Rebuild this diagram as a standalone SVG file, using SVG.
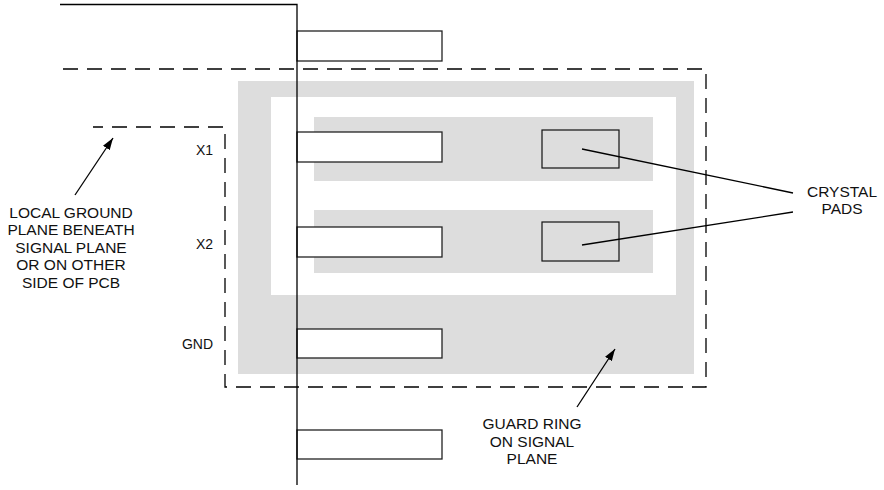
<svg xmlns="http://www.w3.org/2000/svg" width="884" height="490" viewBox="0 0 884 490">
<defs>
<style>
.ln{fill:none;stroke:#000;stroke-width:1.3}
.dash{fill:none;stroke:#000;stroke-width:1.3;stroke-dasharray:15 9}
.pad{fill:#fff;stroke:#222;stroke-width:1.3}
.cp{fill:none;stroke:#111;stroke-width:1.2}
.gray{fill:#dddddd}
.t{font-family:"Liberation Sans",Arial,sans-serif;font-size:15.5px;fill:#111;text-anchor:middle}
.lab{font-family:"Liberation Sans",Arial,sans-serif;font-size:14px;fill:#111;text-anchor:end}
</style>
<marker id="ah" viewBox="0 0 12 8" refX="12" refY="4" markerWidth="12" markerHeight="8" markerUnits="userSpaceOnUse" orient="auto">
<path d="M0,0 L12,4 L0,8 Z" fill="#000"/>
</marker>
</defs>
<rect width="884" height="490" fill="#fff"/>
<g id="guard-ring">
<rect class="gray" x="238" y="81" width="456" height="293"/>
<rect x="271" y="97" width="405" height="198" fill="#fff"/>
</g>
<g id="x1-guard">
<rect class="gray" x="314" y="117" width="339" height="64"/>
</g>
<g id="x2-guard">
<rect class="gray" x="314" y="210" width="339" height="63"/>
</g>
<g id="pins">
<rect class="pad" x="297" y="31" width="145" height="30"/>
<rect class="pad" x="297" y="132" width="145" height="30"/>
<rect class="pad" x="297" y="227" width="145" height="30"/>
<rect class="pad" x="297" y="329" width="145" height="29"/>
<rect class="pad" x="297" y="430" width="145" height="29"/>
</g>
<g id="crystal-pads">
<rect class="cp" x="542" y="130" width="77" height="38"/>
<rect class="cp" x="542" y="222" width="77" height="39"/>
</g>
<g id="chip-outline">
<path class="ln" d="M60,4.5 H297 V485"/>
</g>
<g id="local-ground">
<path class="dash" d="M63,69 H706 V387 H225 V127 H93"/>
</g>
<g id="connectors">
<line class="ln" x1="582" y1="149" x2="793" y2="193"/>
<line class="ln" x1="582" y1="245" x2="793" y2="212"/>
<line class="ln" x1="75" y1="195" x2="113" y2="138" marker-end="url(#ah)"/>
<line class="ln" x1="577" y1="407" x2="615" y2="349" marker-end="url(#ah)"/>
</g>
<g id="labels">
<text class="lab" x="213" y="155">X1</text>
<text class="lab" x="213" y="249">X2</text>
<text class="lab" x="213" y="349">GND</text>
</g>
<g id="local-ground-label">
<text class="t" x="71" y="218">LOCAL GROUND</text>
<text class="t" x="71" y="235">PLANE BENEATH</text>
<text class="t" x="71" y="252.5">SIGNAL PLANE</text>
<text class="t" x="71" y="270">OR ON OTHER</text>
<text class="t" x="71" y="288">SIDE OF PCB</text>
</g>
<g id="crystal-pads-label">
<text class="t" x="842" y="197">CRYSTAL</text>
<text class="t" x="842" y="214">PADS</text>
</g>
<g id="guard-ring-label">
<text class="t" x="532" y="429">GUARD RING</text>
<text class="t" x="532" y="446.5">ON SIGNAL</text>
<text class="t" x="532" y="464">PLANE</text>
</g>
</svg>
